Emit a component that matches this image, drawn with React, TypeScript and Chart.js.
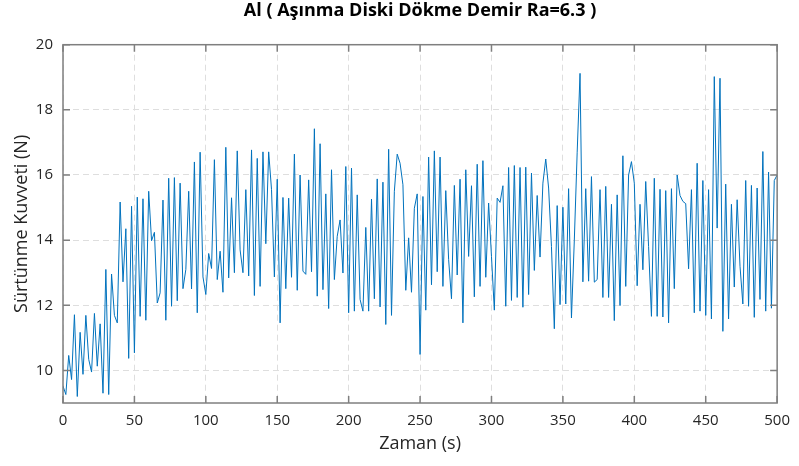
import React, { useEffect, useRef } from "react";
import { Chart, registerables } from "chart.js";

Chart.register(...registerables);

const TITLE = "Al ( Aşınma Diski Dökme Demir Ra=6.3 )";
const X_LABEL = "Zaman (s)";
const Y_LABEL = "Sürtünme Kuvveti (N)";
const SAMPLE_INTERVAL = 2; // seconds between samples
const X_TICKS = [0, 50, 100, 150, 200, 250, 300, 350, 400, 450, 500];
const Y_TICKS = [10, 12, 14, 16, 18, 20];

// Friction force (N), one value every 2 s
const FORCE_0_60 = [9.52, 9.26, 10.46, 9.72, 11.71, 9.2, 11.17, 9.88, 11.69, 10.34, 9.95, 11.75, 10.13, 11.43, 9.3, 13.1, 9.26, 12.96, 11.69, 11.46, 15.17, 12.72, 14.35, 10.37, 15.04, 10.54, 15.32, 11.66, 15.27, 11.54, 15.5];
const FORCE_62_122 = [13.98, 14.24, 12.07, 12.38, 15.23, 11.54, 15.9, 11.97, 15.92, 12.14, 15.75, 12.51, 13.1, 15.5, 12.5, 16.4, 11.77, 16.7, 12.87, 12.33, 13.59, 13.13, 16.47, 12.79, 13.66, 12.4, 16.85, 12.84, 15.3, 13.0, 16.74];
const FORCE_124_186 = [13.7, 13.0, 15.55, 12.9, 16.77, 12.3, 16.51, 12.58, 16.71, 13.89, 16.71, 15.55, 12.87, 15.87, 11.46, 15.31, 12.51, 15.29, 12.86, 16.64, 12.46, 16.0, 13.05, 12.95, 15.85, 13.03, 17.42, 12.28, 16.96, 12.48, 15.42, 11.9];
const FORCE_188_248 = [16.16, 12.79, 14.12, 14.62, 12.99, 16.26, 11.77, 16.21, 11.82, 15.39, 12.18, 11.82, 14.39, 11.82, 15.26, 12.2, 15.88, 11.95, 15.78, 11.41, 16.79, 11.69, 15.5, 16.64, 16.36, 15.7, 12.46, 14.07, 12.4, 14.98, 15.42];
const FORCE_250_310 = [10.49, 15.34, 11.85, 16.55, 12.63, 16.74, 13.03, 16.55, 12.58, 15.52, 13.4, 12.2, 15.68, 12.93, 15.87, 11.46, 16.16, 13.5, 15.67, 12.26, 16.33, 12.58, 16.44, 12.86, 15.14, 13.5, 11.85, 15.29, 15.16, 15.67, 11.97];
const FORCE_312_372 = [16.23, 12.15, 16.29, 12.24, 16.23, 11.94, 16.24, 12.33, 16.06, 13.07, 15.37, 13.48, 15.75, 16.49, 15.6, 13.8, 11.28, 15.06, 12.02, 15.01, 12.04, 15.58, 11.61, 14.0, 16.7, 19.12, 12.72, 15.58, 12.74, 15.95, 12.71];
const FORCE_374_436 = [12.79, 15.55, 12.24, 15.65, 12.24, 15.1, 11.53, 15.39, 11.99, 16.59, 12.58, 16.0, 16.41, 15.75, 12.6, 15.1, 13.09, 15.8, 13.8, 11.66, 15.9, 11.66, 15.56, 11.64, 15.52, 11.46, 15.58, 12.51, 16.0, 15.37, 15.19, 15.12];
const FORCE_438_500 = [13.12, 15.55, 11.77, 16.36, 11.82, 15.83, 11.69, 15.55, 11.58, 19.02, 14.37, 18.97, 11.2, 15.72, 11.58, 15.1, 12.56, 15.24, 13.2, 12.04, 15.83, 11.97, 15.68, 11.63, 15.6, 12.18, 16.72, 11.82, 16.09, 11.91, 15.83, 16.0];

const FORCE = [
  ...FORCE_0_60,
  ...FORCE_62_122,
  ...FORCE_124_186,
  ...FORCE_188_248,
  ...FORCE_250_310,
  ...FORCE_312_372,
  ...FORCE_374_436,
  ...FORCE_438_500,
];

const FONT = "'Open Sans', Lato, sans-serif";
const TEXT_COLOR = "#262626";
const AXIS_COLOR = "#7f7f7f";

const boxPlugin = {
  id: "matlabBox",
  afterDatasetsDraw(chart: any) {
    const { ctx, chartArea, scales } = chart;
    const { left, right, top, bottom } = chartArea;
    ctx.save();
    ctx.strokeStyle = AXIS_COLOR;
    ctx.lineWidth = 1.5;
    ctx.strokeRect(left, top, right - left, bottom - top);
    const len = 7;
    ctx.beginPath();
    X_TICKS.forEach((v) => {
      const x = scales.x.getPixelForValue(v);
      ctx.moveTo(x, bottom);
      ctx.lineTo(x, bottom - len);
      ctx.moveTo(x, top);
      ctx.lineTo(x, top + len);
    });
    Y_TICKS.forEach((v) => {
      const y = scales.y.getPixelForValue(v);
      ctx.moveTo(left, y);
      ctx.lineTo(left + len, y);
      ctx.moveTo(right, y);
      ctx.lineTo(right - len, y);
    });
    ctx.stroke();
    ctx.restore();
  },
};

export default function App() {
  const canvasRef = useRef<HTMLCanvasElement | null>(null);

  useEffect(() => {
    document.body.style.margin = "0";
    const canvas = canvasRef.current;
    if (!canvas) return;
    const points = FORCE.map((v, i) => ({ x: i * SAMPLE_INTERVAL, y: v }));
    const chart = new Chart(canvas, {
      type: "line",
      data: {
        datasets: [
          {
            data: points,
            borderColor: "#0072BD",
            borderWidth: 1,
            pointRadius: 0,
            tension: 0,
            fill: false,
          },
        ],
      },
      options: {
        animation: false,
        responsive: false,
        maintainAspectRatio: false,
        layout: { padding: { left: 0, right: 18, top: 0, bottom: 0 } },
        plugins: {
          legend: { display: false },
          tooltip: { enabled: false },
          title: {
            display: true,
            text: TITLE,
            fullSize: false,
            color: "#000000",
            font: { family: FONT, size: 18, weight: "bold", lineHeight: 1.2 },
            padding: { top: 0.5, bottom: 22.6 },
          },
        },
        scales: {
          x: {
            type: "linear",
            min: 0,
            max: 500,
            afterBuildTicks: (scale: any) => {
              scale.ticks = X_TICKS.map((v) => ({ value: v }));
            },
            afterFit: (scale: any) => {
              scale.height = 63;
            },
            grid: { color: "#dedede", lineWidth: 1, drawTicks: false },
            border: { display: false, dash: [6, 4] },
            ticks: {
              color: TEXT_COLOR,
              font: { family: FONT, size: 15, lineHeight: 1.2 },
              padding: 9,
              maxRotation: 0,
              autoSkip: false,
            },
            title: {
              display: true,
              text: X_LABEL,
              color: TEXT_COLOR,
              font: { family: FONT, size: 18, lineHeight: 1.2 },
              padding: { top: 0, bottom: 11 },
            },
          },
          y: {
            type: "linear",
            min: 9,
            max: 20,
            afterBuildTicks: (scale: any) => {
              scale.ticks = Y_TICKS.map((v) => ({ value: v }));
            },
            afterFit: (scale: any) => {
              scale.width = 63;
            },
            grid: { color: "#dedede", lineWidth: 1, drawTicks: false },
            border: { display: false, dash: [6, 4] },
            ticks: {
              color: TEXT_COLOR,
              font: { family: FONT, size: 15, lineHeight: 1.2 },
              padding: 10,
            },
            title: {
              display: true,
              text: Y_LABEL,
              color: TEXT_COLOR,
              font: { family: FONT, size: 18, lineHeight: 1.2 },
              padding: { top: 11.5, bottom: 0 },
            },
          },
        },
      },
      plugins: [boxPlugin],
    });
    return () => chart.destroy();
  }, []);

  return (
    <div style={{ width: 799, height: 466, background: "#ffffff" }}>
      <canvas ref={canvasRef} width={799} height={466} style={{ display: "block" }} />
    </div>
  );
}
